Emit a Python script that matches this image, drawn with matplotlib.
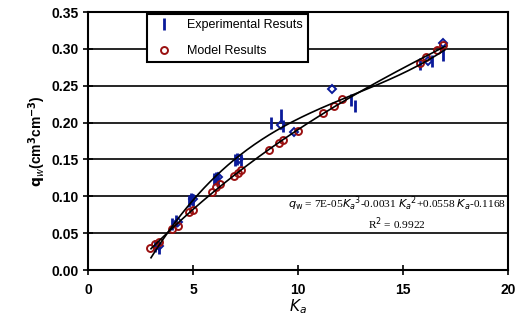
import numpy as np
import matplotlib.pyplot as plt

# -------------------------
# DATA
# -------------------------
exp_tick_ka = [3.2, 3.4, 4.0, 4.2, 4.8, 4.9, 5.0, 6.0, 6.1, 6.2, 7.0, 7.1, 7.3,
               8.7, 9.2, 9.3, 12.5, 12.7, 15.8, 16.4, 16.9]
exp_tick_q = [0.032, 0.030, 0.062, 0.066, 0.094, 0.096, 0.095, 0.124, 0.125, 0.123,
              0.149, 0.150, 0.149, 0.200, 0.210, 0.195, 0.230, 0.222, 0.279, 0.284, 0.292]
exp_dia_ka = [3.4, 4.3, 5.0, 6.2, 7.2, 9.2, 9.8, 11.6, 16.2, 16.9]
exp_dia_q = [0.033, 0.065, 0.096, 0.126, 0.151, 0.197, 0.187, 0.246, 0.284, 0.308]

mod_ka = [2.95, 3.2, 3.4, 4.0, 4.3, 4.8, 5.0, 5.9, 6.1, 6.3, 6.95, 7.15, 7.3,
          8.6, 9.1, 9.3, 10.0, 11.2, 11.7, 12.1, 15.8, 16.1, 16.6, 16.9]
mod_q = [0.030, 0.035, 0.038, 0.055, 0.060, 0.079, 0.082, 0.106, 0.112, 0.116,
         0.127, 0.131, 0.135, 0.163, 0.172, 0.176, 0.188, 0.213, 0.222, 0.232,
         0.281, 0.289, 0.298, 0.305]

eq_text = (r"$\mathbf{\mathit{q}}_{\rm w}$ = 7E-05$K_{a}$$^{3}$-0.0031 $K_{a}$$^{2}$"
           r"+0.0558 $K_{a}$-0.1168")
r2_text = r"R$^{2}$ = 0.9922"

blue = "#0a1a9a"
red = "#9a1010"

plt.rcParams["font.family"] = ["Liberation Sans", "DejaVu Sans"]

fig = plt.figure(figsize=(5.25, 3.25), dpi=100)
ax = fig.add_axes([88 / 525, 1 - 270 / 325, 420 / 525, 258 / 325])

# trend lines (cubic fits of each series)
exp_x = np.array(exp_tick_ka + exp_dia_ka)
exp_y = np.array(exp_tick_q + exp_dia_q)
p_exp = np.polyfit(exp_x, exp_y, 3)
p_mod = np.polyfit(mod_ka, mod_q, 3)
xx = np.linspace(3.0, 17.0, 200)
ax.plot(xx, np.polyval(p_exp, xx), color="black", lw=1.2, zorder=4)
ax.plot(xx, np.polyval(p_mod, xx), color="black", lw=1.2, zorder=4)

ax.plot(exp_tick_ka, exp_tick_q, ls="none", marker="|", ms=9, mew=2,
        color=blue, label="Experimental Resuts", zorder=3)
ax.plot(exp_dia_ka, exp_dia_q, ls="none", marker="D", ms=4.5, mew=1.4,
        mfc="none", mec=blue, zorder=3)
ax.plot(mod_ka, mod_q, ls="none", marker="o", ms=5, mew=1.4,
        mfc="none", mec=red, label="Model Results", zorder=3)

ax.set_xlim(0, 20)
ax.set_ylim(0, 0.35)
ax.set_xticks([0, 5, 10, 15, 20])
ax.set_yticks(np.arange(0, 0.351, 0.05))
ax.set_yticklabels([f"{v:.2f}" for v in np.arange(0, 0.351, 0.05)])
for lab in ax.get_xticklabels() + ax.get_yticklabels():
    lab.set_fontweight("bold")
ax.tick_params(axis="both", labelsize=10, direction="inout", length=7, width=1.2)
ax.tick_params(axis="x", pad=6)
ax.grid(axis="y", color="black", lw=1.2)
for s in ax.spines.values():
    s.set_linewidth(1.5)

ax.set_xlabel(r"$\mathbf{\mathit{K}}_{\mathbf{\mathit{a}}}$", fontsize=11, labelpad=0)
ax.set_ylabel(r"$\mathbf{q}_{\mathbf{\mathit{w}}}$(cm$^{\mathbf{3}}$cm$^{\mathbf{-3}}$)",
              fontsize=10, fontweight="bold", labelpad=2)

ax.text(0.995, 0.22, eq_text + "\n" + r2_text, transform=ax.transAxes,
        ha="right", va="center", fontsize=8.2, family="Liberation Serif",
        multialignment="center", linespacing=1.25, zorder=5)

leg = ax.legend(loc="upper left", bbox_to_anchor=(0.125, 1.015), fontsize=9,
                fancybox=False, framealpha=1, edgecolor="black",
                borderpad=0.4, labelspacing=1.1, handletextpad=0.8)
leg.get_frame().set_linewidth(1.5)

fig.savefig("out.png", dpi=100)
